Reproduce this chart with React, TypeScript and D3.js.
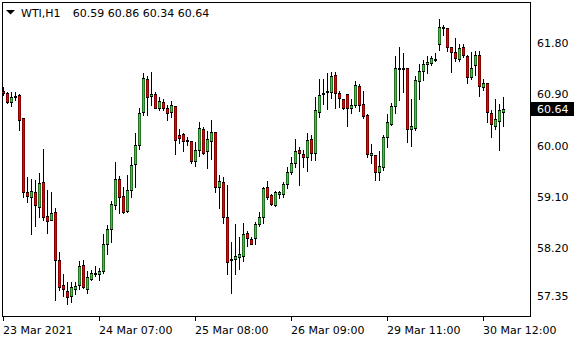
import React from "react";
import * as d3 from "d3";

const openP = [60.96,60.93,60.76,60.85,60.89,60.48,59.18,59.10,59.18,58.93,59.36,58.77,58.70,58.83,57.99,57.55,57.45,57.36,57.49,57.55,57.90,57.48,57.66,57.74,57.74,57.79,58.28,58.53,58.95,59.41,59.11,58.85,59.23,59.67,60.02,60.60,61.17,60.88,60.90,60.67,60.76,60.66,60.59,60.70,60.19,60.21,60.10,60.09,59.73,59.92,60.29,59.90,60.09,60.24,59.28,59.36,58.74,58.00,58.00,58.04,58.07,58.47,58.36,58.38,58.62,58.74,59.27,59.13,58.95,59.15,59.15,59.32,59.54,59.69,59.92,59.85,59.81,60.11,59.88,60.60,60.91,60.94,60.95,61.24,60.93,60.82,60.90,60.66,60.72,61.05,60.73,60.54,59.84,59.84,59.54,59.62,60.16,60.39,60.69,61.34,61.34,61.36,60.29,60.31,61.14,61.31,61.44,61.46,61.50,61.78,62.06,62.06,61.74,61.64,61.52,61.73,61.58,61.20,61.41,61.59,61.04,61.11,60.57,60.35,60.44,60.59];
const highP = [61.03,60.94,60.95,60.94,60.90,60.49,59.45,59.42,59.40,59.52,59.94,59.22,59.19,58.90,58.13,57.75,57.61,57.61,57.61,57.97,57.99,57.79,57.82,57.89,57.85,58.44,58.60,59.03,59.71,59.47,59.28,59.48,59.80,60.22,60.66,61.27,61.22,61.29,60.95,60.86,60.82,60.72,60.79,60.70,60.29,60.22,60.15,60.09,60.06,60.42,60.32,60.25,60.45,60.24,59.49,59.45,59.31,58.31,58.62,58.40,58.65,58.50,58.40,58.66,58.84,59.28,59.38,59.15,59.20,59.21,59.37,59.63,59.80,60.12,59.98,59.92,60.22,60.19,60.86,61.18,61.17,61.27,61.30,61.30,60.97,60.82,60.91,60.82,61.14,61.08,60.97,60.55,60.03,59.84,59.90,60.19,60.56,60.75,61.57,61.73,61.63,61.36,60.82,61.22,61.43,61.50,61.58,61.57,61.63,62.22,62.12,62.06,61.74,61.89,61.79,61.79,61.59,61.65,61.67,61.67,61.18,61.11,60.63,60.82,60.73,60.86];
const lowP = [60.89,60.75,60.69,60.80,60.28,59.10,59.01,58.44,58.59,58.75,58.70,58.47,58.69,57.28,57.46,57.36,57.21,57.26,57.39,57.48,57.50,57.41,57.64,57.71,57.64,57.77,58.10,58.31,58.89,58.81,58.82,58.84,59.10,59.27,59.95,60.54,60.54,60.72,60.66,60.63,60.63,60.45,60.50,59.85,60.04,59.91,60.01,59.69,59.65,59.82,59.85,59.61,59.76,59.19,58.90,58.65,57.74,57.42,57.75,57.83,57.98,58.23,58.27,58.28,58.59,58.64,59.06,58.96,58.94,59.08,59.10,59.25,59.50,59.63,59.31,59.62,59.56,59.75,59.75,60.51,60.73,60.65,60.83,60.67,60.68,60.65,60.35,60.58,60.68,60.61,60.48,59.81,59.70,59.40,59.39,59.57,59.97,60.36,60.58,60.80,60.95,60.07,60.00,60.28,60.82,61.15,61.27,61.41,61.49,61.68,61.95,61.67,61.30,61.49,61.48,61.56,61.11,61.17,61.24,60.87,60.98,60.41,60.16,60.29,59.92,60.34];
const closeP = [60.93,60.77,60.85,60.88,60.46,59.19,59.12,59.20,58.95,59.34,58.75,58.68,58.81,57.99,57.52,57.48,57.34,57.51,57.53,57.89,57.51,57.69,57.76,57.76,57.79,58.28,58.53,58.97,59.41,59.09,58.83,59.23,59.66,60.02,60.57,61.19,60.86,60.91,60.67,60.79,60.66,60.57,60.72,60.10,60.13,60.09,60.08,59.73,59.92,60.31,59.88,60.12,60.24,59.28,59.38,58.74,57.96,57.99,58.06,58.10,58.45,58.37,58.28,58.62,58.74,59.26,59.10,58.97,59.18,59.18,59.32,59.54,59.70,59.91,59.87,59.80,60.10,59.88,60.63,60.89,60.93,60.97,61.22,60.92,60.83,60.67,60.67,60.71,61.06,60.72,60.53,59.85,59.87,59.53,59.64,60.16,60.41,60.70,61.36,61.36,61.36,60.29,60.35,61.15,61.31,61.43,61.47,61.54,61.52,62.08,62.09,61.73,61.64,61.54,61.71,61.59,61.21,61.36,61.59,61.05,61.10,60.59,60.38,60.47,60.63,60.64];

const priceTicks = [61.8, 60.9, 60.0, 59.1, 58.2, 57.35];
const timeTickIdx = [0, 24, 48, 72, 96, 120];
const timeTickLabels = ["23 Mar 2021", "24 Mar 07:00", "25 Mar 08:00", "26 Mar 09:00", "29 Mar 11:00", "30 Mar 12:00"];
const symbolLabel = "WTI,H1";
const lastPrice = 60.64;

const W = 580, H = 340;
const FRAME = { left: 2, top: 2, right: 530, bottom: 316 };
const UP = "#3cc83c";
const DOWN = "#f00000";
const FONT = "DejaVu Sans, Verdana, sans-serif";

export default function App() {
  const n = openP.length;
  const x = d3.scaleLinear().domain([0, n - 1]).range([3, 503]);
  const k = 56.9;
  const y = d3.scaleLinear().domain([57, 62.5]).range([145.7 + 3 * k, 145.7 - 2.5 * k]);
  const fmt = d3.format(".2f");
  const last = n - 1;
  const header = `${fmt(openP[last])} ${fmt(highP[last])} ${fmt(lowP[last])} ${fmt(closeP[last])}`;

  const candles = d3.range(n).map((i) => {
    const c = Math.round(x(i));
    const o = openP[i], cl = closeP[i];
    const up = cl >= o;
    const col = up ? UP : DOWN;
    const edge = d3.color(col)!.darker(1.6).formatHex();
    const yTop = Math.round(y(Math.max(o, cl)));
    const yBot = Math.round(y(Math.min(o, cl)));
    const yH = Math.round(y(highP[i]));
    const yL = Math.round(y(lowP[i]));
    const h = yBot - yTop;
    return (
      <g key={i}>
        <rect x={c} y={yH} width={1} height={yL - yH + 1} fill="#000" />
        <rect x={c - 1} y={yTop} width={3} height={h + 1} fill="#000" />
        {h >= 2 && (
          <g>
            <rect x={c - 1} y={yTop + 1} width={3} height={h - 1} fill={edge} />
            <rect x={c} y={yTop + 1} width={1} height={h - 1} fill={col} />
          </g>
        )}
      </g>
    );
  });

  const yLast = y(lastPrice);

  return (
    <svg width={W} height={H} shapeRendering="crispEdges" style={{ position: "absolute", left: 0, top: 0, background: "#fff" }} fontFamily={FONT}>
      <rect x={0} y={0} width={W} height={H} fill="#fff" />
      <rect x={FRAME.left + 0.5} y={FRAME.top + 0.5} width={FRAME.right - FRAME.left} height={FRAME.bottom - FRAME.top} fill="none" stroke="#000" strokeWidth={1} />
      {candles}
      <polygon points="6,10 15,10 10.5,14.5" fill="#000" shapeRendering="auto" />
      <text x={21} y={17} fontSize={11} fill="#000">{symbolLabel}</text>
      <text x={72.7} y={17} fontSize={11} fill="#000">{header}</text>
      {priceTicks.map((p) => (
        <text key={p} x={537} y={y(p) + 4} fontSize={11} fill="#000">{fmt(p)}</text>
      ))}
      <rect x={531} y={Math.round(yLast) - 7} width={43} height={14} fill="#000" />
      <text x={537} y={Math.round(yLast) + 4} fontSize={11} fill="#fff">{fmt(lastPrice)}</text>
      {timeTickIdx.map((idx, j) => {
        const tx = Math.round(x(idx));
        return (
          <g key={idx}>
            <rect x={tx} y={FRAME.bottom + 1} width={1} height={4} fill="#000" />
            <text x={tx} y={334} fontSize={11} fill="#000">{timeTickLabels[j]}</text>
          </g>
        );
      })}
    </svg>
  );
}
